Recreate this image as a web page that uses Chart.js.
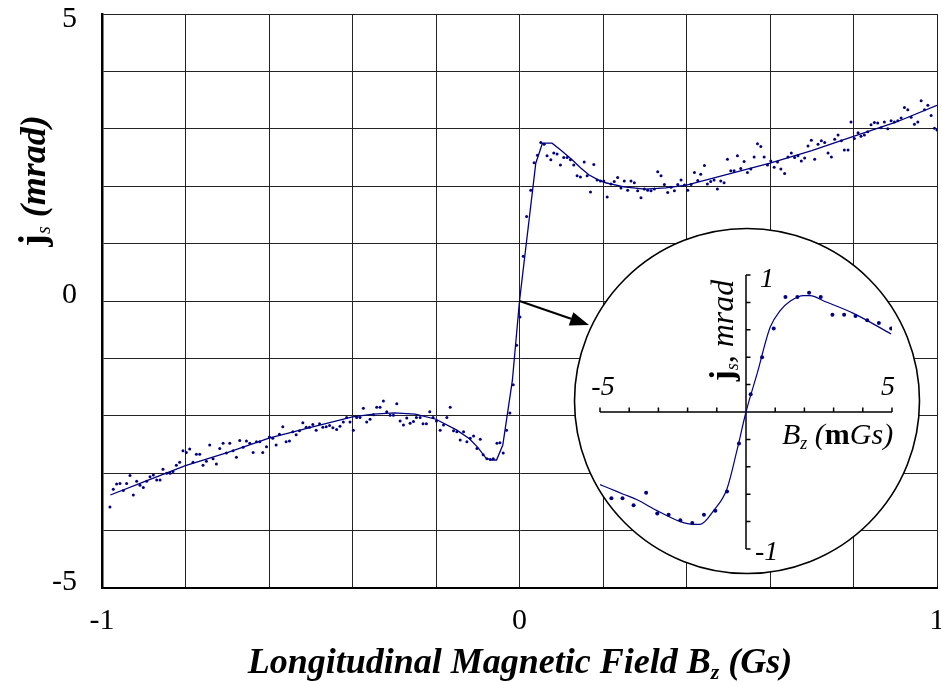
<!DOCTYPE html>
<html><head><meta charset="utf-8">
<script src="https://cdn.jsdelivr.net/npm/chart.js@4.4.1/dist/chart.umd.min.js"></script>
<style>
html,body{margin:0;padding:0;background:#fff;}
#wrap{position:relative;width:941px;height:685px;overflow:hidden;}
#main{position:absolute;left:0;top:0;}
#inset{position:absolute;left:573px;top:227px;}
</style></head><body>
<div id="wrap">
<canvas id="main" width="941" height="685"></canvas>
<canvas id="inset" width="348" height="348"></canvas>
</div>
<script>
// ---- main chart data (field in Gs, phase in mrad) ----
const fieldGs = [
-0.981,-0.973,-0.965,-0.957,-0.949,-0.941,-0.933,-0.925,-0.917,-0.909,-0.901,-0.893,-0.885,-0.877,-0.869,-0.861,
-0.854,-0.845,-0.837,-0.830,-0.822,-0.814,-0.806,-0.798,-0.790,-0.782,-0.774,-0.766,-0.758,-0.750,-0.742,-0.734,
-0.726,-0.718,-0.710,-0.702,-0.694,-0.686,-0.678,-0.670,-0.662,-0.654,-0.646,-0.638,-0.630,-0.622,-0.615,-0.606,
-0.599,-0.591,-0.583,-0.575,-0.567,-0.559,-0.551,-0.543,-0.535,-0.527,-0.519,-0.511,-0.503,-0.495,-0.487,-0.479,
-0.471,-0.463,-0.455,-0.447,-0.438,-0.430,-0.422,-0.414,-0.406,-0.398,-0.390,-0.382,-0.374,-0.366,-0.358,-0.350,
-0.342,-0.334,-0.326,-0.318,-0.310,-0.302,-0.294,-0.286,-0.278,-0.270,-0.262,-0.254,-0.247,-0.238,-0.231,-0.223,
-0.215,-0.207,-0.199,-0.190,-0.182,-0.174,-0.166,-0.158,-0.150,-0.142,-0.134,-0.126,-0.118,-0.110,-0.102,-0.094,
-0.087,-0.078,-0.070,-0.063,-0.054,-0.047,-0.039,-0.031,-0.023,-0.015,-0.007,0.001,0.009,0.017,0.027,0.035,
0.043,0.051,0.059,0.066,0.075,0.082,0.090,0.098,0.106,0.114,0.122,0.130,0.138,0.146,0.155,0.162,
0.170,0.178,0.186,0.194,0.202,0.210,0.219,0.227,0.235,0.243,0.251,0.259,0.267,0.275,0.283,0.291,
0.299,0.307,0.315,0.323,0.331,0.339,0.347,0.355,0.363,0.371,0.379,0.387,0.395,0.403,0.411,0.419,
0.427,0.434,0.443,0.450,0.458,0.466,0.474,0.482,0.490,0.498,0.506,0.514,0.522,0.530,0.538,0.546,
0.554,0.562,0.570,0.578,0.586,0.594,0.602,0.610,0.618,0.626,0.635,0.643,0.651,0.659,0.667,0.675,
0.683,0.691,0.699,0.707,0.715,0.723,0.731,0.739,0.747,0.755,0.763,0.771,0.778,0.787,0.794,0.802,
0.811,0.818,0.826,0.834,0.842,0.850,0.858,0.866,0.874,0.882,0.890,0.898,0.906,0.914,0.922,0.930,
0.938,0.946,0.954,0.962,0.970,0.978,0.986,0.994,1.000];
const phiMrad = [
-3.59,-3.28,-3.19,-3.18,-3.30,-3.18,-3.04,-3.38,-3.14,-3.21,-3.25,-3.14,-3.06,-3.03,-3.12,-3.12,
-2.93,-3.00,-3.00,-2.97,-2.86,-2.81,-2.61,-2.64,-2.58,-2.81,-2.67,-2.67,-2.86,-2.79,-2.51,-2.75,
-2.84,-2.57,-2.48,-2.65,-2.48,-2.61,-2.72,-2.43,-2.55,-2.44,-2.48,-2.64,-2.45,-2.45,-2.64,-2.54,
-2.37,-2.39,-2.51,-2.32,-2.19,-2.45,-2.44,-2.28,-2.33,-2.26,-2.12,-2.20,-2.20,-2.15,-2.25,-2.14,
-2.20,-2.19,-2.17,-2.21,-2.24,-2.18,-2.11,-2.03,-2.11,-2.25,-2.03,-2.03,-1.87,-2.11,-2.06,-1.98,
-1.85,-1.85,-1.74,-1.93,-1.99,-1.99,-1.79,-2.09,-2.16,-2.04,-2.13,-2.10,-2.03,-2.03,-2.14,-2.14,
-1.93,-2.03,-2.09,-2.25,-2.16,-2.03,-1.85,-2.26,-2.28,-2.42,-2.28,-2.45,-2.39,-2.35,-2.57,-2.41,
-2.68,-2.75,-2.76,-2.75,-2.48,-2.47,-2.65,-2.25,-1.95,-1.46,-0.77,-0.28,0.78,1.47,1.93,2.41,
2.54,2.76,2.73,2.53,2.46,2.58,2.56,2.37,2.50,2.50,2.46,2.37,2.18,2.16,2.42,2.18,
1.90,2.38,2.11,2.09,2.09,1.81,2.04,2.08,2.15,1.97,2.09,1.93,2.09,2.06,1.92,1.80,
1.95,1.93,1.92,1.95,2.25,2.18,2.03,1.89,1.98,1.92,2.03,2.11,2.02,1.93,2.03,2.24,
2.10,2.21,2.36,2.04,2.08,2.11,1.95,2.09,2.06,2.47,2.27,2.27,2.53,2.31,2.43,2.24,
2.30,2.51,2.74,2.69,2.51,2.37,2.44,2.33,2.42,2.30,2.22,2.51,2.58,2.50,2.53,2.44,
2.49,2.70,2.80,2.47,2.73,2.79,2.76,2.58,2.51,2.82,2.89,2.79,2.63,2.63,3.12,2.83,
2.93,2.87,2.89,2.95,3.07,3.11,3.10,3.02,3.12,3.00,3.14,3.12,3.14,3.19,3.37,3.33,
3.20,3.08,3.12,3.49,3.33,3.41,3.23,3.01,2.98];
// fitted curve (main)
const fitFieldGs = [-0.98,-0.90,-0.80,-0.70,-0.60,-0.50,-0.40,-0.35,-0.30,-0.25,-0.20,-0.15,-0.12,-0.10,-0.08,-0.065,-0.055,-0.04,-0.017,0.0,0.039,0.055,0.078,0.10,0.126,0.146,0.166,0.186,0.206,0.25,0.30,0.35,0.40,0.50,0.60,0.70,0.80,0.90,1.00];
const fitPhiMrad = [-3.38,-3.15,-2.87,-2.64,-2.39,-2.20,-2.02,-1.97,-1.95,-1.97,-2.06,-2.25,-2.40,-2.55,-2.74,-2.77,-2.77,-2.51,-1.38,0.0,2.40,2.75,2.75,2.62,2.46,2.32,2.20,2.12,2.06,1.99,1.95,1.97,2.02,2.21,2.40,2.62,2.87,3.11,3.41];
const xTickLabels = [-1, 0, 1];
const yTickLabels = [-5, 0, 5];

// ---- inset data (field in mGs, phase in mrad) ----
const insetFieldMGs = [-4.61,-4.23,-3.85,-3.42,-3.04,-2.65,-2.25,-1.84,-1.44,-1.05,-0.65,-0.24,0.16,0.55,0.95,1.35,1.76,2.16,2.56,2.96,3.36,3.75,4.15,4.55,4.97];
const insetPhi = [-0.63,-0.63,-0.68,-0.59,-0.74,-0.75,-0.79,-0.81,-0.75,-0.72,-0.58,-0.23,0.13,0.40,0.61,0.84,0.84,0.87,0.84,0.71,0.71,0.70,0.67,0.65,0.61];
const insetFitField = [-5.0,-4.65,-4.2,-3.73,-3.05,-2.25,-1.79,-1.57,-1.11,-0.65,-0.31,0,0.38,0.83,1.17,1.52,1.97,2.2,2.66,3.68,4.97];
const insetFitPhi = [-0.53,-0.56,-0.60,-0.64,-0.72,-0.80,-0.82,-0.82,-0.72,-0.56,-0.28,0,0.28,0.62,0.74,0.81,0.85,0.85,0.81,0.72,0.57];
const insetXTickLabels = [-5, 5];
const insetYTickLabels = [-1, 1];

const NAVY = '#000080';
const SERIF = '"Liberation Serif", "Times New Roman", serif';

function drawRich(ctx, parts, x, y, align) {
  let total = 0;
  parts.forEach(p => { ctx.font = p.f; p.w = ctx.measureText(p.t).width; total += p.w; });
  let cx = align === 'center' ? x - total / 2 : (align === 'right' ? x - total : x);
  ctx.textAlign = 'left';
  ctx.textBaseline = 'alphabetic';
  parts.forEach(p => { ctx.font = p.f; ctx.fillText(p.t, cx, y + (p.dy || 0)); cx += p.w; });
}

const mainPlugin = {
  id: 'mainDecor',
  afterDraw(chart) {
    const ctx = chart.ctx;
    const xs = chart.scales.x, ys = chart.scales.y;
    ctx.save();
    ctx.fillStyle = '#000';
    // y tick labels (Excel-style: the top one is kept inside the page)
    ctx.font = '30px ' + SERIF;
    ctx.textAlign = 'right';
    ctx.textBaseline = 'middle';
    yTickLabels.forEach(v => {
      const off = v === 5 ? 5 : -6;
      ctx.fillText(String(v), 77, ys.getPixelForValue(v) + off);
    });
    // x title
    drawRich(ctx, [
      {t: 'Longitudinal Magnetic Field B', f: 'bold italic 36px ' + SERIF},
      {t: 'z', f: 'bold italic 22px ' + SERIF, dy: 6},
      {t: ' (Gs)', f: 'bold italic 36px ' + SERIF}
    ], 520, 673, 'center');
    // y title (rotated)
    ctx.save();
    ctx.translate(45, 181);
    ctx.rotate(-Math.PI / 2);
    drawRich(ctx, [
      {t: 'j', f: 'bold 38px ' + SERIF},
      {t: 's', f: 'italic 20px ' + SERIF, dy: 5},
      {t: ' (mrad)', f: 'bold italic 36px ' + SERIF}
    ], 0, 0, 'center');
    ctx.restore();
    // arrow from origin to the inset
    const x0 = xs.getPixelForValue(0), y0 = ys.getPixelForValue(0);
    const tx = 589, ty = 325;
    const ang = Math.atan2(ty - y0, tx - x0);
    const hl = 19, hw = 7;
    const bx = tx - hl * Math.cos(ang), by = ty - hl * Math.sin(ang);
    ctx.strokeStyle = '#000';
    ctx.lineWidth = 2;
    ctx.beginPath(); ctx.moveTo(x0, y0); ctx.lineTo(bx, by); ctx.stroke();
    ctx.beginPath();
    ctx.moveTo(tx, ty);
    ctx.lineTo(bx + hw * Math.sin(ang), by - hw * Math.cos(ang));
    ctx.lineTo(bx - hw * Math.sin(ang), by + hw * Math.cos(ang));
    ctx.closePath(); ctx.fill();
    ctx.restore();
  }
};

new Chart(document.getElementById('main'), {
  type: 'scatter',
  data: {
    datasets: [
      {
        data: fieldGs.map((x, i) => ({x, y: phiMrad[i]})),
        showLine: false, pointRadius: 1.5, pointBorderWidth: 0,
        pointBackgroundColor: NAVY, pointBorderColor: NAVY, order: 1
      },
      {
        data: fitFieldGs.map((x, i) => ({x, y: fitPhiMrad[i]})),
        showLine: true, pointRadius: 0, borderColor: NAVY, borderWidth: 1.3,
        tension: 0, order: 0
      }
    ]
  },
  options: {
    responsive: false, animation: false, devicePixelRatio: 1,
    layout: {padding: {left: 0, right: 2, top: 14, bottom: 0}},
    plugins: {legend: {display: false}, tooltip: {enabled: false}},
    scales: {
      x: {
        type: 'linear', min: -1, max: 1, position: 'bottom',
        ticks: {
          stepSize: 0.2, autoSkip: false, maxRotation: 0, padding: 15, color: '#000',
          font: {family: SERIF, size: 30},
          callback: v => xTickLabels.some(t => Math.abs(t - v) < 1e-6) ? String(Math.round(v)) : ''
        },
        grid: {color: '#222', lineWidth: 1, drawTicks: false},
        border: {color: '#000', width: 2},
        afterFit: s => { s.height = 97; s.paddingLeft = 0; s.paddingRight = 0; }
      },
      y: {
        type: 'linear', min: -5, max: 5, position: 'left',
        ticks: {stepSize: 1, autoSkip: false, display: false},
        grid: {color: '#222', lineWidth: 1, drawTicks: false},
        border: {color: '#000', width: 2.5},
        afterFit: s => { s.width = 102; s.paddingTop = 0; s.paddingBottom = 0; }
      }
    }
  },
  plugins: [mainPlugin]
});

// ---- inset ----
const insetPlugin = {
  id: 'insetDecor',
  beforeDraw(chart) {
    const ctx = chart.ctx;
    ctx.save();
    ctx.beginPath();
    ctx.arc(174, 174, 172.5, 0, Math.PI * 2);
    ctx.fillStyle = '#fff'; ctx.fill();
    ctx.lineWidth = 1.6; ctx.strokeStyle = '#000'; ctx.stroke();
    ctx.restore();
  },
  beforeDatasetsDraw(chart) {
    const ctx = chart.ctx, xs = chart.scales.x, ys = chart.scales.y;
    const x0 = xs.getPixelForValue(0), y0 = ys.getPixelForValue(0);
    ctx.save();
    ctx.strokeStyle = '#000'; ctx.lineWidth = 1.5;
    ctx.beginPath();
    ctx.moveTo(xs.getPixelForValue(-5), y0); ctx.lineTo(xs.getPixelForValue(5), y0);
    ctx.moveTo(x0, ys.getPixelForValue(-1)); ctx.lineTo(x0, ys.getPixelForValue(1));
    for (let v = -5; v <= 5; v++) { const p = xs.getPixelForValue(v); ctx.moveTo(p, y0); ctx.lineTo(p, y0 - 4.5); }
    for (let k = -5; k <= 5; k++) { const p = ys.getPixelForValue(k * 0.2); ctx.moveTo(x0, p); ctx.lineTo(x0 + 4.5, p); }
    ctx.stroke();
    ctx.restore();
  },
  afterDraw(chart) {
    const ctx = chart.ctx, xs = chart.scales.x, ys = chart.scales.y;
    const x0 = xs.getPixelForValue(0), y0 = ys.getPixelForValue(0);
    ctx.save();
    ctx.fillStyle = '#000';
    const f = 'italic 28px ' + SERIF;
    drawRich(ctx, [{t: String(insetXTickLabels[0]), f}], xs.getPixelForValue(insetXTickLabels[0]) + 3, y0 - 17, 'center');
    drawRich(ctx, [{t: String(insetXTickLabels[1]), f}], xs.getPixelForValue(insetXTickLabels[1]) - 4, y0 - 17, 'center');
    drawRich(ctx, [{t: String(insetYTickLabels[1]), f}], x0 + 14, ys.getPixelForValue(insetYTickLabels[1]) + 12, 'left');
    drawRich(ctx, [{t: String(insetYTickLabels[0]), f}], x0 + 9, ys.getPixelForValue(insetYTickLabels[0]) + 11, 'left');
    drawRich(ctx, [
      {t: 'B', f: 'italic 30px ' + SERIF},
      {t: 'z', f: 'italic 18px ' + SERIF, dy: 5},
      {t: ' (', f: 'italic 30px ' + SERIF},
      {t: 'm', f: 'bold 30px ' + SERIF},
      {t: 'Gs)', f: 'italic 30px ' + SERIF}
    ], x0 + 36, y0 + 32, 'left');
    ctx.save();
    ctx.translate(x0 - 13, (y0 + ys.getPixelForValue(1)) / 2 - 13);
    ctx.rotate(-Math.PI / 2);
    drawRich(ctx, [
      {t: 'j', f: 'bold 33px ' + SERIF},
      {t: 's', f: 'italic 18px ' + SERIF, dy: 5},
      {t: ', mrad', f: 'italic 32px ' + SERIF}
    ], 0, 0, 'center');
    ctx.restore();
    ctx.restore();
  }
};

new Chart(document.getElementById('inset'), {
  type: 'scatter',
  data: {
    datasets: [
      {
        data: insetFieldMGs.map((x, i) => ({x, y: insetPhi[i]})),
        showLine: false, pointRadius: 2, pointBorderWidth: 0,
        pointBackgroundColor: NAVY, pointBorderColor: NAVY, order: 1
      },
      {
        data: insetFitField.map((x, i) => ({x, y: insetFitPhi[i]})),
        showLine: true, pointRadius: 0, borderColor: NAVY, borderWidth: 1.2,
        tension: 0.35, cubicInterpolationMode: 'monotone', order: 0
      }
    ]
  },
  options: {
    responsive: false, animation: false, devicePixelRatio: 1,
    layout: {padding: {left: 27, right: 29, top: 48, bottom: 26}},
    plugins: {legend: {display: false}, tooltip: {enabled: false}},
    scales: {
      x: {type: 'linear', min: -5, max: 5, display: false},
      y: {type: 'linear', min: -1, max: 1, display: false}
    }
  },
  plugins: [insetPlugin]
});
</script>
</body></html>
